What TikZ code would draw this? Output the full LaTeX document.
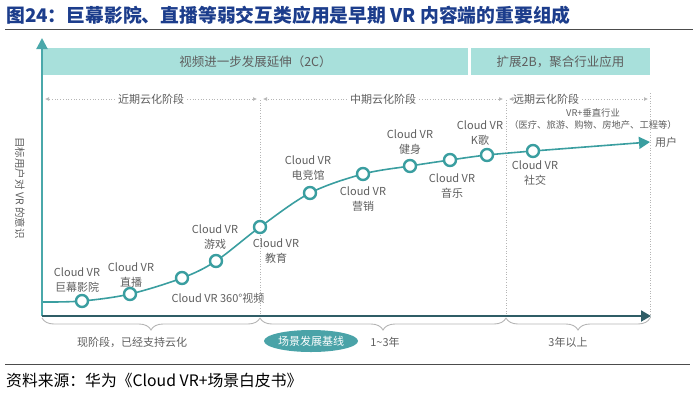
\documentclass[tikz,border=0pt]{standalone}
\usepackage{fontspec}
\setmainfont{Noto Sans CJK SC}
\usepackage{tikz}
\usepackage{xcolor}
\usetikzlibrary{shapes, positioning, arrows.meta, decorations.pathreplacing, backgrounds}

\definecolor{titleblue}{HTML}{1C3D8C}
\definecolor{curveteal}{HTML}{3A9EA0}
\definecolor{axisteal}{HTML}{4AA8AA}
\definecolor{axisdark}{HTML}{2F5D66}
\definecolor{bandfill}{HTML}{A8E0DB}
\definecolor{pillfill}{HTML}{4AA3A8}
\definecolor{labelgray}{HTML}{5E5E5E}
\definecolor{guidegray}{HTML}{B5B5B5}

\tikzset{
  spot/.style={circle, draw=curveteal, line width=2.4pt, fill=white, minimum size=12pt, inner sep=0pt},
  tag/.style={align=center, text=labelgray, inner sep=0pt, font=\fontsize{11}{14.5}\selectfont},
  band/.style={fill=bandfill, text=labelgray, inner sep=0pt, minimum height=27pt, font=\fontsize{12.5}{15}\selectfont},
  phase/.style={draw=guidegray, dotted, line width=0.7pt, -{Latex[length=4pt, width=4pt]}},
  guide/.style={draw=guidegray, dotted, line width=0.6pt},
  curly/.style={draw=guidegray, line width=0.9pt, decorate, decoration={brace, amplitude=12pt, mirror}},
}

\begin{document}
\begin{tikzpicture}[x=1pt, y=-1pt]
\useasboundingbox (0,0) rectangle (700,400);

% title and rules
\node[anchor=west, inner sep=0pt, text=titleblue, font=\fontsize{18.8}{20}\selectfont\bfseries] (title) at (6,15) {图24：巨幕影院、直播等弱交互类应用是早期 VR 内容端的重要组成};
\coordinate (TL) at (5,29);
\coordinate (TR) at (693,29);
\draw[line width=1pt, black!70] (TL) -- (TR);
\coordinate (BL) at (5,364);
\coordinate (BR) at (690,364);
\draw[line width=1pt, black!70] (BL) -- (BR);
\node[anchor=west, inner sep=0pt, font=\fontsize{15.8}{17}\selectfont] (src) at (6,380) {资料来源：华为《Cloud VR+场景白皮书》};

% bands
\node[band, minimum width=425pt] (B1) at (255.5,61.5) {视频进一步发展延伸（2C）};
\node[band, minimum width=179pt] (B2) at (560.5,61.5) {扩展2B，聚合行业应用};

% phases
\node[tag, fill=white, inner xsep=3pt] (P1) at (151,99) {近期云化阶段};
\node[tag, fill=white, inner xsep=3pt] (P2) at (383,99) {中期云化阶段};
\node[tag, fill=white, inner xsep=3pt] (P3) at (546,99) {远期云化阶段};
\coordinate (P1l) at (45,99);
\coordinate (P1r) at (257,99);
\coordinate (P2l) at (263,99);
\coordinate (P2r) at (503,99);
\coordinate (P3l) at (509,99);
\coordinate (P3r) at (648,99);
\draw[phase] (P1) -- (P1l);
\draw[phase] (P1) -- (P1r);
\draw[phase] (P2) -- (P2l);
\draw[phase] (P2) -- (P2r);
\draw[phase] (P3) -- (P3l);
\draw[phase] (P3) -- (P3r);

% guides
\coordinate (G1t) at (260,100);
\coordinate (G1b) at (260,317);
\coordinate (G2t) at (506,100);
\coordinate (G2b) at (506,317);
\coordinate (G3t) at (650,93);
\coordinate (G3b) at (650,317);
\draw[guide] (G1t) -- (G1b);
\draw[guide] (G2t) -- (G2b);
\draw[guide] (G3t) -- (G3b);

% axes
\coordinate (O) at (42,316);
\coordinate (Ytop) at (42,38);
\coordinate (Xend) at (651,316);
\draw[axisteal, line width=2pt, -{Triangle[length=11pt, width=11pt]}] (O) -- (Ytop);
\draw[axisdark, line width=2pt, -{Triangle[length=10pt, width=11pt]}] (O) -- (Xend);
\node[tag, rotate=-90, font=\fontsize{10.5}{12}\selectfont] (ylab) at (20,188) {目标用户对 VR 的意识};

% braces and time labels
\coordinate (K1) at (42,318);
\coordinate (K2) at (260,318);
\coordinate (K3) at (506,318);
\coordinate (K4) at (650,318);
\draw[curly] (K1) -- (K2);
\draw[curly] (K2) -- (K3);
\draw[curly] (K3) -- (K4);
\node[tag] (now) at (132,342) {现阶段，已经支持云化};
\node[ellipse, fill=pillfill, text=white, minimum width=94pt, minimum height=22pt, inner sep=0pt, font=\fontsize{11}{13}\selectfont] (base) at (311,341) {场景发展基线};
\node[tag] (mid) at (385,342) {1\textasciitilde3年};
\node[tag] (far) at (568,342) {3年以上};

% scenario points
\coordinate (S) at (42,302);
\node[spot] (c1) at (82,301) {};
\node[spot] (c2) at (130,294) {};
\node[spot] (c3) at (182,278) {};
\node[spot] (c4) at (216,261) {};
\node[spot] (c5) at (260,227) {};
\node[spot] (c6) at (310,193) {};
\node[spot] (c7) at (363,174) {};
\node[spot] (c8) at (410,166) {};
\node[spot] (c9) at (450,160) {};
\node[spot] (c10) at (487,155) {};
\node[spot] (c11) at (533,151) {};
\coordinate (U) at (650,142);
\begin{scope}[on background layer]
\draw[curveteal, line width=1.6pt] plot[smooth, tension=0.55] coordinates {(S) (c1.center) (c2.center) (c3.center) (c4.center) (c5.center) (c6.center) (c7.center) (c8.center) (c9.center) (c10.center) (c11.center)};
\end{scope}
\draw[curveteal, line width=1.6pt, -{Triangle[length=11pt, width=12pt]}] (c11) -- (U);
\node[tag, right=5pt of U] (user) {用户};

% scenario labels
\node[tag] (t1) at (77,280) {Cloud VR\\巨幕影院};
\node[tag] (t2) at (131,275) {Cloud VR\\直播};
\node[tag] (t3) at (218,298) {Cloud VR 360°视频};
\node[tag] (t4) at (215,237) {Cloud VR\\游戏};
\node[tag] (t5) at (276,251) {Cloud VR\\教育};
\node[tag] (t6) at (308,168) {Cloud VR\\电竞馆};
\node[tag] (t7) at (363,199) {Cloud VR\\营销};
\node[tag] (t8) at (410,142) {Cloud VR\\健身};
\node[tag] (t9) at (452,186) {Cloud VR\\音乐};
\node[tag] (t10) at (480,133) {Cloud VR\\K歌};
\node[tag] (t11) at (535,173) {Cloud VR\\社交};
\node[tag, font=\fontsize{9.3}{12}\selectfont] (vert) at (593,119) {VR+垂直行业\\（医疗、旅游、购物、房地产、工程等）};
\end{tikzpicture}
\end{document}
